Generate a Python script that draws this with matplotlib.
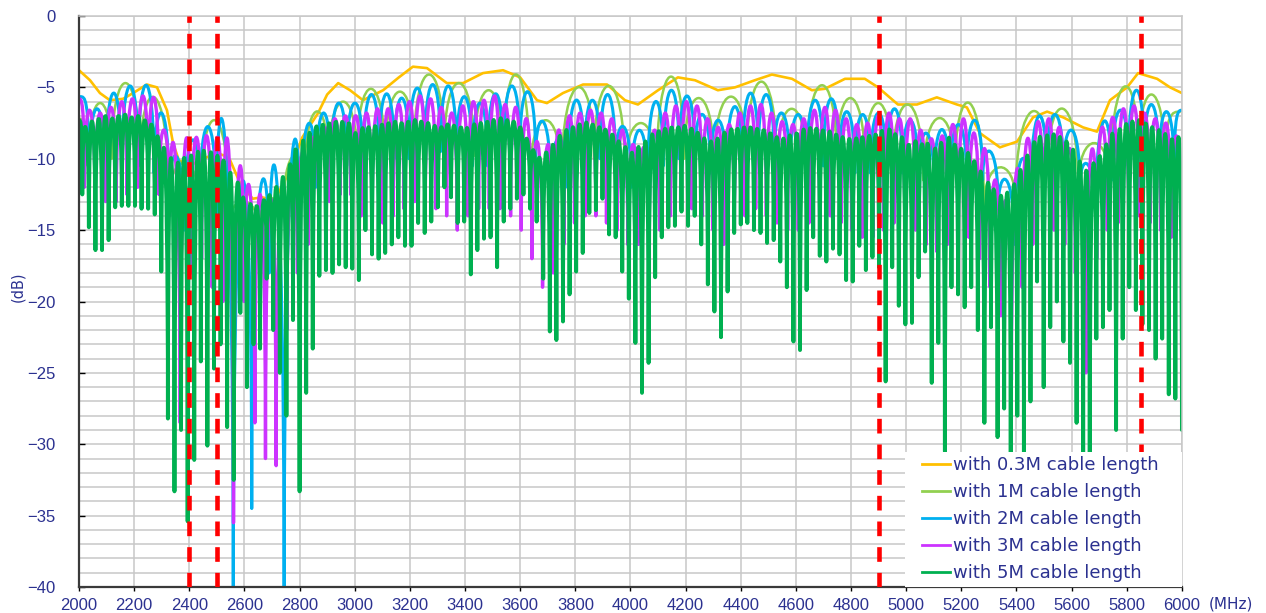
import numpy as np
import matplotlib.pyplot as plt
from matplotlib.ticker import MultipleLocator
from matplotlib.path import Path
from matplotlib.patches import PathPatch, Rectangle
from matplotlib.lines import Line2D

# ---- return loss vs frequency for several cable lengths ----

# 0.3M cable: smooth curve
orange_mhz = [2000, 2040, 2076, 2112, 2160, 2196, 2246, 2283, 2319, 2341, 2362, 2400, 2450,
              2500, 2530, 2548, 2584, 2630, 2663, 2710, 2760, 2810, 2867, 2900, 2940, 2983,
              3030, 3103, 3160, 3211, 3262, 3334, 3393, 3465, 3538, 3600, 3661, 3697, 3755,
              3828, 3915, 3980, 4027, 4100, 4172, 4234, 4317, 4379, 4451, 4513, 4586, 4658,
              4705, 4778, 4850, 4898, 4970, 5039, 5111, 5184, 5220, 5267, 5340, 5402, 5460,
              5511, 5569, 5641, 5692, 5739, 5801, 5841, 5910, 5957, 6000]
orange_db = [-3.8, -4.5, -5.4, -5.9, -5.8, -5.4, -4.8, -5.0, -6.6, -8.9, -10.1, -10.5, -10.0,
             -9.6, -9.8, -10.1, -11.7, -12.8, -12.7, -12.9, -11.0, -8.5, -6.8, -5.5, -4.7, -5.2,
             -5.9, -5.2, -4.3, -3.55, -3.65, -4.7, -4.7, -4.0, -3.8, -4.3, -5.9, -6.1, -5.4,
             -4.8, -4.8, -5.9, -6.2, -5.2, -4.3, -4.5, -5.2, -5.0, -4.5, -4.1, -4.4, -5.2,
             -5.1, -4.4, -4.4, -5.0, -6.2, -6.2, -5.7, -6.2, -6.4, -8.2, -9.2, -8.8, -7.1,
             -6.7, -7.1, -7.8, -8.1, -5.9, -5.0, -4.0, -4.4, -5.0, -5.4]

# 1M cable: ripple peaks and the dips between them
m1_peak_mhz = [2000, 2064, 2173, 2269, 2384, 2493, 2600, 2705, 2775, 2856, 2953, 3062, 3157,
               3273, 3375, 3491, 3588, 3683, 3817, 3919, 4041, 4149, 4240, 4367, 4476, 4585,
               4693, 4802, 4898, 5002, 5122, 5231, 5333, 5460, 5569, 5678, 5801, 5884, 5993]
m1_peak_db = [-7.2, -6.1, -4.7, -5.7, -10.3, -7.3, -13.0, -12.8, -9.8, -6.7, -6.0, -5.1, -5.3,
              -4.1, -4.7, -5.2, -4.1, -7.3, -5.0, -4.9, -7.5, -4.25, -5.75, -5.65, -4.6, -6.5,
              -4.85, -5.75, -6.1, -6.2, -7.15, -6.1, -10.6, -6.7, -6.5, -8.9, -4.95, -5.5, -6.7]
m1_dip_db = [-10.5, -10.0, -10.5, -13.0, -13.5, -14.5, -15.0, -14.0, -12.0, -10.5, -10.0, -10.0,
             -9.5, -9.5, -9.8, -10.0, -11.5, -11.5, -10.0, -11.0, -11.0, -10.0, -10.5, -10.0,
             -10.5, -10.5, -10.0, -10.5, -11.0, -11.5, -11.0, -13.5, -13.0, -10.5, -12.0, -12.0,
             -10.0, -10.5]

# 2M cable
m2_peak_mhz = [2005, 2068, 2124, 2185, 2245, 2300, 2354, 2409, 2468, 2529, 2590, 2663, 2717,
               2771, 2832, 2885, 2940, 3001, 3061, 3116, 3170, 3225, 3284, 3338, 3400, 3454,
               3509, 3569, 3629, 3683, 3738, 3805, 3860, 3919, 3973, 4034, 4089, 4149, 4204,
               4263, 4317, 4379, 4433, 4494, 4548, 4608, 4669, 4730, 4784, 4843, 4898, 4959,
               5014, 5074, 5128, 5188, 5250, 5304, 5364, 5420, 5478, 5540, 5600, 5660, 5714,
               5775, 5836, 5890, 5944, 6000]
m2_peak_db = [-5.65, -6.5, -5.4, -4.9, -4.85, -6.8, -9.85, -8.7, -7.75, -8.6, -11.6, -12.1, -11.5,
              -9.85, -7.6, -6.8, -6.1, -6.1, -5.5, -5.45, -5.75, -5.05, -4.8, -4.9, -5.65, -6.1,
              -5.45, -4.9, -5.3, -7.4, -8.6, -5.9, -5.9, -5.5, -7.75, -8.0, -6.0, -5.2, -5.6,
              -6.9, -7.3, -6.35, -5.4, -5.5, -6.8, -6.9, -5.9, -5.8, -6.7, -6.9, -6.8, -6.5,
              -7.3, -8.2, -7.95, -7.6, -7.3, -9.5, -11.5, -10.0, -7.05, -6.9, -8.0, -10.4, -7.4,
              -6.6, -5.2, -6.2, -6.7, -6.6]
m2_dip_db = [-11.0, -11.5, -11.0, -10.5, -11.0, -12.5, -15.0, -13.0, -14.0, -41.0, -34.5, -18.0,
             -41.0, -16.0, -12.0, -11.0, -10.5,
             -10.5, -10.0, -10.0, -10.0, -9.5, -9.5, -10.0, -10.5, -10.5, -10.0, -9.5, -10.0,
             -12.0, -12.0, -10.5, -10.0, -10.5, -12.0,
             -12.0, -10.5, -10.0, -10.0, -11.0, -11.5, -10.5, -10.0, -10.0, -11.0, -11.0, -10.5,
             -10.5, -11.0, -11.0, -11.0, -11.0,
             -11.5, -12.0, -12.0, -11.5, -11.5, -13.5, -16.0, -14.0, -11.0, -11.0, -12.0, -14.5,
             -11.5, -10.5, -10.0, -10.5, -11.0]

# 3M cable: one peak and one dip per ripple, ripples evenly spread over 2000-6000
m3_peak_db = [-5.8, -6.6, -6.8, -6.4, -6.0, -5.8, -5.6, -5.7, -8.0, -9.5, -8.8, -8.5, -8.4,
              -8.5, -9.0, -11.0, -12.0, -12.5, -12.8, -12.5, -11.0, -9.5, -8.5, -7.8, -7.2, -7.0,
              -7.0, -6.8, -6.5, -6.5, -6.2, -6.0, -5.6, -5.8, -6.4, -6.8, -6.3, -6.0, -5.9,
              -5.6, -6.2, -6.4, -7.2, -8.8, -9.0, -8.0, -7.0, -6.8, -6.6, -6.8, -7.2, -8.0,
              -9.0, -9.2, -8.0, -6.8, -6.3, -6.0, -6.3, -7.2, -7.8, -7.6, -6.8, -6.3, -6.2,
              -6.8, -7.4, -7.6, -7.2, -6.6, -6.4, -6.6, -7.2, -7.6, -7.5, -7.0, -6.8, -7.2,
              -7.2, -8.0, -8.6, -8.4, -7.6, -7.2, -8.2, -9.3, -11.5, -13.0, -10.8, -8.6, -7.4,
              -7.2, -7.8, -9.3, -11.5, -9.5, -7.8, -7.1, -6.5, -6.3, -6.8, -7.2, -7.5, -8.4]
m3_dip_db = [-12.0, -12.5, -13.0, -13.0, -12.5, -12.0, -12.0, -12.5, -14.0, -28.5, -18.0, -17.0,
             -19.0, -20.0, -35.5, -20.0, -28.5, -31.0, -31.5, -22.0, -18.0, -16.0, -14.0, -13.0,
             -12.5, -12.5,
             -14.0, -15.0, -14.5, -14.0, -13.5, -13.0, -13.0, -13.5, -14.0, -15.0, -14.0, -13.5,
             -13.5, -13.5, -14.0, -15.0, -17.0, -19.0, -18.0, -16.0, -14.5, -14.0, -14.0, -14.5,
             -15.0, -16.0,
             -16.0, -16.0, -15.0, -14.0, -13.5, -13.5, -14.0, -15.0, -16.0, -15.0, -14.0, -13.5,
             -14.0, -14.5, -15.0, -15.0, -14.5, -14.0, -14.0, -14.5, -15.0, -15.5, -15.5, -15.0,
             -14.5, -15.0,
             -15.0, -16.0, -16.5, -16.0, -15.5, -15.5, -17.0, -19.0, -21.0, -25.5, -19.0, -16.0,
             -15.0, -15.0, -16.0, -18.0, -25.0, -17.0, -15.0, -14.5, -14.0, -14.0, -14.5, -15.0,
             -15.5, -16.0]

# 5M cable: one peak and one dip per ripple
m5_peak_db = [-7.3, -7.8, -7.4, -7.2, -7.0, -7.2, -7.0, -6.9, -7.1, -7.0, -7.3, -7.6, -8.5,
              -9.5, -10.0, -10.3, -10.0, -9.8, -9.6, -9.5, -9.6, -9.8, -10.2, -11.0, -12.0,
              -12.8, -13.2, -13.3, -13.0, -12.6, -12.0, -11.3, -10.5, -9.6, -8.8, -8.2, -7.8,
              -7.6, -7.5, -7.4, -7.4, -7.5,
              -8.2, -7.9, -7.8, -7.7, -7.6, -7.5, -7.4, -7.5, -7.4, -7.3, -7.4, -7.5, -7.7,
              -7.8, -7.6, -7.7, -7.8, -7.9, -7.6, -7.5, -7.4, -7.3, -7.2, -7.3, -7.4, -7.8,
              -8.6, -9.4, -10.0, -9.6, -9.0, -8.4, -8.0, -7.8, -7.6, -7.5, -7.6, -7.8, -8.0,
              -8.3, -8.8, -9.2,
              -9.6, -9.2, -8.8, -8.4, -8.1, -7.9, -7.8, -7.8, -7.7, -7.9, -8.2, -8.6, -8.8,
              -8.6, -8.2, -8.0, -7.9, -7.8, -7.8, -7.9, -8.0, -8.2, -8.5, -8.6, -8.4, -8.2,
              -8.0, -7.9, -7.9, -8.0, -8.1, -8.3, -8.5, -8.6, -8.6, -8.5, -8.4, -8.3, -8.2,
              -8.1, -8.3, -8.5,
              -9.0, -8.8, -9.0, -9.2, -9.3, -9.0, -8.8, -9.0, -9.3, -9.6, -10.2, -11.0, -11.8,
              -12.3, -12.6, -12.4, -11.8, -10.8, -9.8, -9.0, -8.6, -8.4, -8.3, -8.5, -8.8,
              -9.4, -10.2, -10.8, -10.5, -9.8, -9.0, -8.4, -8.0, -7.6, -7.4, -7.3, -7.5, -7.8,
              -8.0, -8.3, -8.6, -8.5]
m5_dip_db = [-12.5, -14.8, -16.4, -16.4, -15.7, -13.4, -13.3, -13.3, -13.3, -13.5, -13.5, -13.9,
             -17.9, -28.2, -33.3, -29.0, -35.4, -31.1, -24.2, -30.1, -24.7, -23.0, -28.8, -32.5,
             -20.8, -26.0, -23.0, -23.3, -18.4, -22.0, -25.0, -28.0, -21.3, -33.3, -26.4, -23.3,
             -18.2, -17.8, -18.0, -17.4, -17.6, -17.7,
             -18.5, -15.0, -16.7, -17.0, -16.6, -16.0, -15.5, -16.1, -16.1, -14.5, -15.2, -14.4,
             -13.4, -12.0, -12.7, -14.5, -14.4, -18.1, -16.4, -15.6, -15.5, -17.6, -14.4, -13.5,
             -12.8, -12.5, -13.5, -14.4, -18.4, -22.1, -22.7, -21.4, -19.5, -17.9, -16.6, -13.8,
             -13.6, -12.8, -15.3, -15.5, -17.9, -19.8,
             -22.9, -26.4, -24.3, -18.3, -15.5, -14.8, -14.7, -13.7, -14.7, -14.0, -16.0, -18.8,
             -20.7, -22.5, -19.3, -15.2, -14.6, -14.5, -15.0, -15.2, -15.9, -15.7, -17.2, -19.0,
             -22.8, -23.4, -19.2, -15.5, -16.8, -17.2, -16.3, -16.7, -18.5, -18.6, -16.1, -17.8,
             -16.9, -17.6, -25.6, -17.6, -20.3, -21.6,
             -21.5, -18.3, -16.5, -25.7, -22.9, -30.5, -19.0, -19.5, -20.4, -19.0, -22.0, -28.5,
             -21.8, -29.5, -27.5, -31.0, -28.0, -31.0, -27.0, -18.6, -26.0, -21.8, -20.0, -22.8,
             -24.3, -28.5, -31.0, -32.0, -22.6, -21.8, -20.6, -29.0, -22.6, -19.0, -20.6, -21.6,
             -22.0, -24.0, -22.6, -26.5, -26.8, -29.0]

band_edges = [2400, 2500, 4900, 5850]

labels = ['with 0.3M cable length', 'with 1M cable length', 'with 2M cable length',
          'with 3M cable length', 'with 5M cable length']
colors = ['#FFC000', '#92D050', '#00B0F0', '#CC33FF', '#00B050']
text_color = '#2B3190'


def ripple(peak_f, peak_db, dip_db):
    # peaks at the given frequencies, each dip halfway to the next peak
    f = np.asarray(peak_f, float)
    x = np.empty(2 * len(f) - 1)
    y = np.empty(2 * len(f) - 1)
    x[0::2] = f
    x[1::2] = (f[:-1] + f[1:]) / 2
    y[0::2] = peak_db
    y[1::2] = dip_db
    return x, y


def even_ripple(peak_db, dip_db):
    y = np.column_stack([peak_db, dip_db]).ravel()
    x = np.linspace(2000, 6000, len(y))
    return x, y


def lobes(x, y):
    # x, y go peak, dip, peak, dip ...  Each lobe between two dips is a cubic
    # bezier leaving the dips vertically and topping out at the peak value.
    verts = [(x[0], y[0]), ((x[0] + x[1]) / 2, y[0]), (x[1], y[0]), (x[1], y[1])]
    codes = [Path.MOVETO] + [Path.CURVE4] * 3
    i = 1
    while i + 2 < len(x):
        da, p, db = y[i], y[i + 1], y[i + 2]
        c = (p - 0.125 * (da + db)) / 0.75
        verts += [(x[i], c), (x[i + 2], c), (x[i + 2], db)]
        codes += [Path.CURVE4] * 3
        i += 2
    if i + 1 < len(x):
        p = y[i + 1]
        verts += [(x[i], p), ((x[i] + x[i + 1]) / 2, p), (x[i + 1], p)]
        codes += [Path.CURVE4] * 3
    return Path(verts, codes)


fig = plt.figure(figsize=(12.66, 6.13), dpi=100)
ax = fig.add_axes([0.0624, 0.0424, 0.8712, 0.9315])

ax.plot(orange_mhz, orange_db, color=colors[0], lw=1.9, solid_joinstyle='round', zorder=2)

rippled = [
    (ripple(m1_peak_mhz, m1_peak_db, m1_dip_db), 1.8),
    (ripple(m2_peak_mhz, m2_peak_db, m2_dip_db), 2.2),
    (even_ripple(m3_peak_db, m3_dip_db), 2.4),
    (even_ripple(m5_peak_db, m5_dip_db), 2.8),
]
for ((x, y), lw), c in zip(rippled, colors[1:]):
    ax.add_patch(PathPatch(lobes(x, y), fill=False, edgecolor=c, lw=lw,
                           joinstyle='round', capstyle='round', zorder=2))

for f in band_edges:
    ax.axvline(f, color='#FF0000', lw=3.3, linestyle=(0, (3.2, 2.4)), zorder=5)

ax.set_xlim(2000, 6000)
ax.set_ylim(-40, 0)
ax.xaxis.set_major_locator(MultipleLocator(200))
ax.yaxis.set_major_locator(MultipleLocator(5))
ax.yaxis.set_minor_locator(MultipleLocator(1))
ax.grid(which='major', axis='x', color='#C8C8C8', lw=1.1)
ax.grid(which='both', axis='y', color='#C8C8C8', lw=1.1)
ax.set_axisbelow(True)

ax.tick_params(axis='y', which='major', direction='in', length=4, width=1, pad=17,
               labelsize=12, labelcolor=text_color)
ax.tick_params(axis='y', which='minor', length=0)
ax.tick_params(axis='x', direction='out', length=3, width=1, pad=5,
               labelsize=12, labelcolor=text_color)
for lab in ax.get_xticklabels() + ax.get_yticklabels():
    lab.set_family('Liberation Sans')

for side in ('left', 'bottom'):
    ax.spines[side].set_color('#3A3A3A')
    ax.spines[side].set_linewidth(1.6)
for side in ('top', 'right'):
    ax.spines[side].set_color('#C8C8C8')
    ax.spines[side].set_linewidth(1.1)

fig.text(0.0142, 0.532, '(dB)', rotation=90, ha='center', va='center',
         fontsize=10.5, color=text_color, family='DejaVu Sans')
fig.text(0.9545, 0.0145, '(MHz)', ha='left', va='center',
         fontsize=11, color=text_color, family='DejaVu Sans')

# legend sits on a plain white block in the lower right corner
ax.add_patch(Rectangle((0.749, 0.0), 0.251, 0.237, transform=ax.transAxes,
                       facecolor='white', edgecolor='none', zorder=6))
handles = [Line2D([], [], color=c, lw=2) for c in colors]
leg = ax.legend(handles, labels, loc='upper left', bbox_to_anchor=(0.764, 0.229),
                borderaxespad=0, borderpad=0, frameon=False,
                handlelength=1.55, handletextpad=0.17, labelspacing=0.5,
                labelcolor=text_color, prop={'family': 'DejaVu Sans', 'size': 13})
leg.set_zorder(7)

fig.savefig('out.png', dpi=100)
